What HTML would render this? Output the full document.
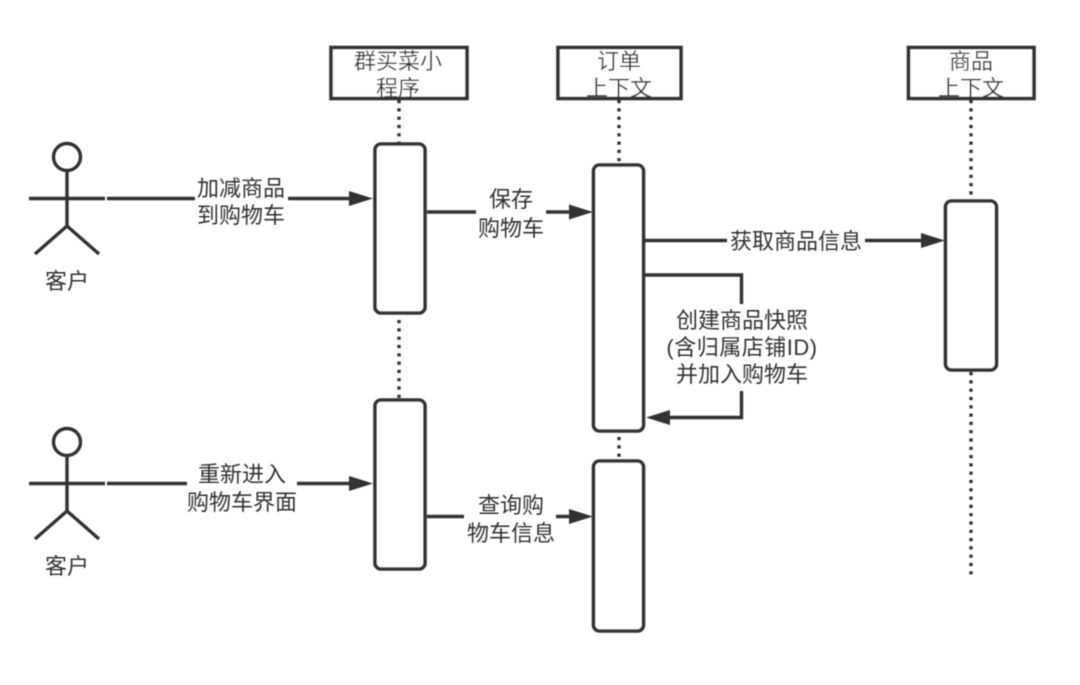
<!DOCTYPE html>
<html><head><meta charset="utf-8"><style>
html,body{margin:0;padding:0;background:#fff;width:1080px;height:685px;overflow:hidden}
svg{display:block}
text{font-family:"Liberation Sans","Noto Sans CJK SC",sans-serif;font-size:22px;fill:#333;text-anchor:middle}
</style></head><body>
<svg width="1080" height="685" viewBox="0 0 1080 685" xmlns="http://www.w3.org/2000/svg">
<defs><filter id="b" filterUnits="userSpaceOnUse" x="0" y="0" width="1080" height="685"><feGaussianBlur stdDeviation="0.4"/></filter></defs>
<g filter="url(#b)">
<g fill="none" stroke="#333" stroke-width="3.400" stroke-dasharray="3.200 5.100">
<path d="M399 100V144M399 320V400"/>
<path d="M619 100V165M619 437V461"/>
<path d="M971 100V201M971 372V578"/>
</g>
<g fill="#fff" stroke="#333" stroke-width="3.600">
<rect x="331" y="47.500" width="136" height="51"/>
<rect x="558" y="47.500" width="123" height="51"/>
<rect x="908.500" y="47.500" width="125.500" height="51"/>
<rect x="375" y="144" width="50" height="169" rx="6"/>
<rect x="593.500" y="165" width="50" height="266" rx="6"/>
<rect x="945.500" y="201" width="51" height="169" rx="6"/>
<rect x="375" y="400" width="50" height="169" rx="6"/>
<rect x="593.500" y="461" width="50" height="170" rx="6"/>
</g>
<g fill="none" stroke="#333" stroke-width="3.400">
<circle cx="67" cy="157" r="13.500"/>
<path d="M67 171V226M29 198.500H105M35 254L67 226L99 254"/>
<circle cx="67" cy="442" r="13.500"/>
<path d="M67 456V511M29 483.500H105M35 539L67 511L99 539"/>
<path d="M107 198.500H195M288 198.500H350"/>
<path d="M107 483.500H187M297 483.500H350"/>
<path d="M427 212H476M546 212H570"/>
<path d="M427 516.500H464M556 516.500H570"/>
<path d="M645 240.500H727M865 240.500H922"/>
<path d="M645 275H741.500V304M741.500 391V417.500H668"/>
</g>
<g fill="#333">
<path d="M373 198.500L349 191V206Z"/>
<path d="M373 483.500L349 476V491Z"/>
<path d="M593 212L569 204.500V219.500Z"/>
<path d="M593 516.500L569 509V524Z"/>
<path d="M945 240.500L921 233V248Z"/>
<path d="M646 417.500L670 410V425Z"/>
</g>
<text x="398" y="69">群买菜小</text>
<text x="398" y="96">程序</text>
<text x="619" y="69">订单</text>
<text x="619" y="96">上下文</text>
<text x="971" y="69">商品</text>
<text x="971" y="96">上下文</text>
<text x="67" y="289">客户</text>
<text x="67" y="574">客户</text>
<text x="241" y="196">加减商品</text>
<text x="241" y="223">到购物车</text>
<text x="511" y="207">保存</text>
<text x="511" y="236">购物车</text>
<text x="796" y="249">获取商品信息</text>
<text x="742" y="328">创建商品快照</text>
<text x="742" y="355" style="letter-spacing:0.500px">(含归属店铺ID)</text>
<text x="742" y="382">并加入购物车</text>
<text x="242" y="482">重新进入</text>
<text x="242" y="510">购物车界面</text>
<text x="511" y="513">查询购</text>
<text x="511" y="541">物车信息</text>
</g>
</svg>
</body></html>
